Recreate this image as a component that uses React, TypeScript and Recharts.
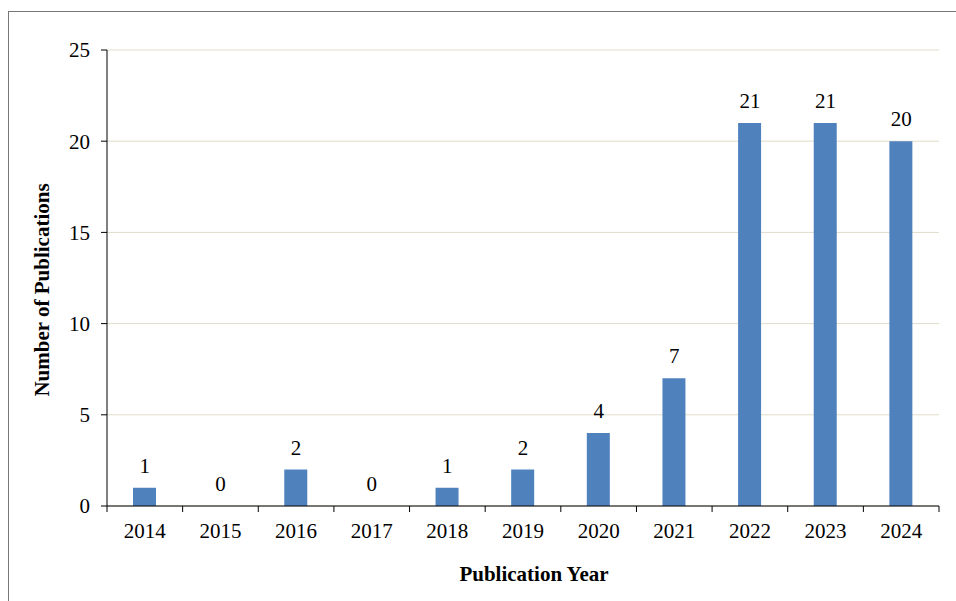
import { ComposedChart, Bar, Line, XAxis, YAxis, CartesianGrid, LabelList } from 'recharts';

const years = ['2014', '2015', '2016', '2017', '2018', '2019', '2020', '2021', '2022', '2023', '2024'];
const publications = [1, 0, 2, 0, 1, 2, 4, 7, 21, 21, 20];
const yTicks = [0, 5, 10, 15, 20, 25];

const data = years.map((year, i) => ({ year, count: publications[i] }));

const FONT = '"Liberation Serif", "Times New Roman", serif';

function YearTick(props: any) {
  const { x, y, payload, index } = props;
  const half = payload.offset ?? 0;
  const last = index === years.length - 1;
  return (
    <g>
      <line x1={x - half} x2={x - half} y1={y} y2={y + 6} stroke="#000" />
      {last && <line x1={x + half} x2={x + half} y1={y} y2={y + 6} stroke="#000" />}
      <text x={x} y={y + 32} textAnchor="middle" fontFamily={FONT} fontSize={21} fill="#000">
        {payload.value}
      </text>
    </g>
  );
}

export default function App() {
  return (
    <div
      style={{
        position: 'absolute',
        left: 8,
        top: 11,
        width: 948,
        height: 590,
        borderTop: '1px solid #777',
        borderLeft: '1px solid #777',
        boxSizing: 'border-box',
        background: '#fff',
      }}
    >
      <ComposedChart
        width={947}
        height={589}
        data={data}
        margin={{ top: 38, right: 17, left: 8, bottom: 0 }}
        barSize={23}
      >
        <CartesianGrid vertical={false} stroke="#e0dccb" />
        <XAxis
          dataKey="year"
          height={95}
          tickLine={false}
          tickSize={0}
          tickMargin={0}
          axisLine={{ stroke: '#000' }}
          tick={<YearTick />}
          interval={0}
          label={{
            value: 'Publication Year',
            position: 'insideBottom',
            offset: 20,
            dx: 11,
            style: { fontFamily: FONT, fontSize: 21, fontWeight: 'bold', fill: '#000' },
          }}
        />
        <YAxis
          width={90}
          domain={[0, 25]}
          ticks={yTicks}
          tickSize={6}
          tickMargin={11}
          axisLine={{ stroke: '#000' }}
          tickLine={{ stroke: '#000' }}
          tick={{ fontFamily: FONT, fontSize: 21, fill: '#000' }}
          label={{
            value: 'Number of Publications',
            angle: -90,
            position: 'insideLeft',
            offset: 25,
            dy: 12,
            style: { fontFamily: FONT, fontSize: 21, fontWeight: 'bold', fill: '#000', textAnchor: 'middle' },
          }}
        />
        <Bar dataKey="count" fill="#4F81BD" isAnimationActive={false} />
        {/* invisible line only carries the value labels, so zero years get a "0" too */}
        <Line
          dataKey="count"
          stroke="none"
          dot={false}
          activeDot={false}
          legendType="none"
          isAnimationActive={false}
        >
          <LabelList
            dataKey="count"
            position="top"
            offset={15}
            style={{ fontFamily: FONT, fontSize: 21, fill: '#000' }}
          />
        </Line>
      </ComposedChart>
    </div>
  );
}
